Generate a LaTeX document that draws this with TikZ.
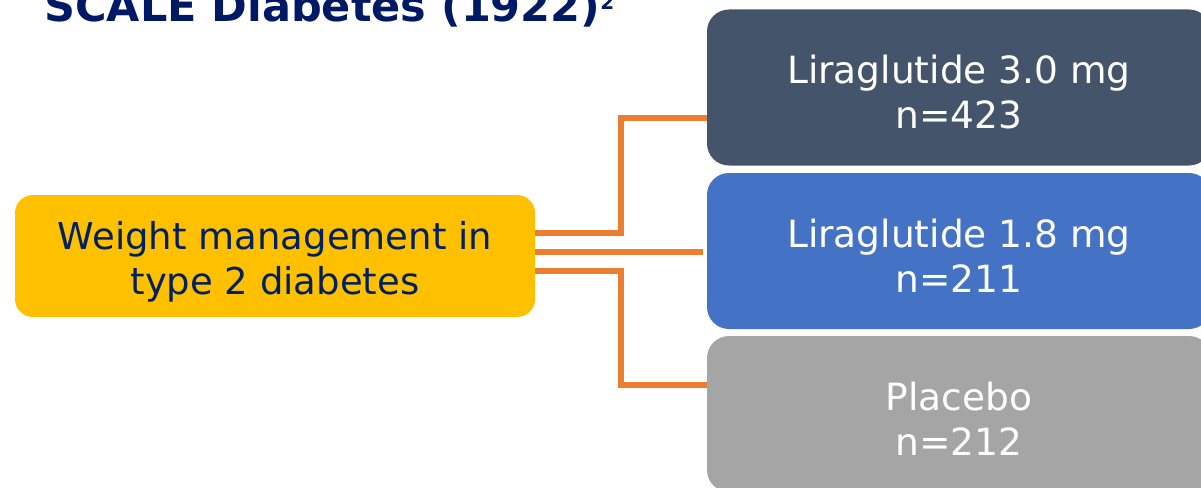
\documentclass[tikz,border=0pt]{standalone}
\usepackage{fontspec}
\setmainfont{DejaVu Sans}
\definecolor{darkbox}{HTML}{44546A}
\definecolor{bluebox}{HTML}{4472C4}
\definecolor{graybox}{HTML}{A5A5A5}
\definecolor{yellowbox}{HTML}{FFC000}
\definecolor{orangeline}{HTML}{ED7D31}
\definecolor{navytext}{HTML}{002060}
\definecolor{titleblue}{HTML}{001965}
\begin{document}
\begin{tikzpicture}[x=1pt,y=-1pt,
  armbox/.style={rounded corners=22pt, minimum width=504pt, minimum height=156pt,
    inner sep=0pt},
  armtext/.style={align=center, text=white, inner sep=0pt,
    font=\fontsize{37.5}{45}\selectfont},
  conn/.style={draw=orangeline, line width=5.5pt},
]
\useasboundingbox (0,0) rectangle (1201,487);
\node[anchor=base west, text=titleblue, font=\fontsize{43}{50}\selectfont\bfseries, inner sep=0pt]
  (title) at (44,22) {SCALE Diabetes (1922)\raisebox{12pt}{\fontsize{20}{22}\selectfont 2}};
\node[fill=yellowbox, rounded corners=18pt, minimum width=520pt, minimum height=122pt,
  inner sep=0pt] (w) at (275,256) {};
\node[align=center, text=navytext, inner sep=0pt, font=\fontsize{37}{45}\selectfont]
  (wt) at ([yshift=-6pt]w.center) {Weight management in\\type 2 diabetes};
\node[armbox, fill=darkbox] (d) at (959,87.5) {};
\node[armbox, fill=bluebox] (b) at (959,251) {};
\node[armbox, fill=graybox] (g) at (959,414) {};
\node[armtext] (dt) at ([yshift=-5pt]d.center) {Liraglutide 3.0 mg\\n=423};
\node[armtext] (bt) at ([yshift=-5pt]b.center) {Liraglutide 1.8 mg\\n=211};
\node[armtext] (gt) at ([yshift=-5pt]g.center) {Placebo\\n=212};
\coordinate (mid) at (703,252);
\draw[conn] (w.east |- 0,233) -- (621,233) |- (d.west |- 0,118);
\draw[conn] (w.east |- mid) -- (mid);
\draw[conn] (w.east |- 0,271) -- (621,271) |- (g.west |- 0,385);
\end{tikzpicture}
\end{document}
